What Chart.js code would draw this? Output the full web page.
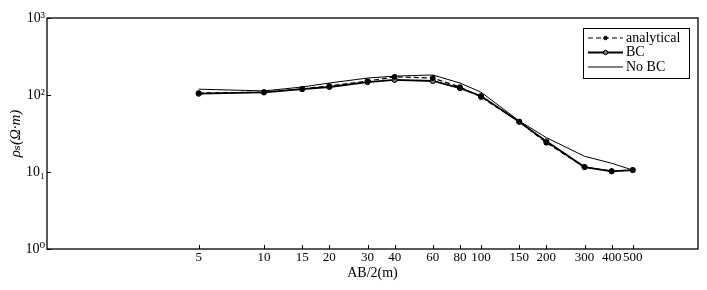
<!DOCTYPE html>
<html>
<head>
<meta charset="utf-8">
<script src="https://cdn.jsdelivr.net/npm/chart.js@4.4.1/dist/chart.umd.min.js"></script>
<style>
  html, body { margin: 0; padding: 0; background: #fff; }
  #wrap { width: 707px; height: 290px; }
</style>
</head>
<body>
<div id="wrap"><canvas id="chartRho" width="707" height="290"></canvas></div>
<script>
    // AB/2 spacings (m)
    const spacings = [5, 10, 15, 20, 30, 40, 60, 80, 100, 150, 200, 300, 400, 500]

    // apparent resistivity (ohm.m)
    const analytical = [106, 109, 120, 131, 152, 172, 166, 127, 94, 45, 24, 11.6, 10.3, 10.6]
    const withBC     = [104, 108, 119, 127, 147, 157, 152, 123, 97, 45, 25, 11.6, 10.2, 10.6]
    const noBC       = [119, 113, 127, 143, 166, 176, 182, 143, 109, 46, 28, 16, 13, 10.6]

    const yTickValues = [1, 10, 100, 1000]
    const yTickLabels = ['10\u2070', '10\u2081', '10\u00b2', '10\u00b3']

    const serif = '"Liberation Serif", "DejaVu Serif", serif'

    const toPoints = (vals) => spacings.map((s, i) => ({ x: s, y: vals[i] }))

    // frame box + inward tick marks
    const frameTicks = {
        id: 'frameTicks',
        afterDraw(chart) {
            const { ctx, chartArea: a, scales } = chart
            ctx.save()
            ctx.strokeStyle = '#000'
            ctx.lineWidth = 1.3
            ctx.strokeRect(a.left, a.top, a.right - a.left, a.bottom - a.top)
            ctx.lineWidth = 1
            ctx.beginPath()
            spacings.forEach((s) => {
                const px = Math.round(scales.x.getPixelForValue(s)) + 0.5
                ctx.moveTo(px, a.bottom)
                ctx.lineTo(px, a.bottom - 4)
            })
            yTickValues.forEach((v) => {
                const py = Math.round(scales.y.getPixelForValue(v)) + 0.5
                ctx.moveTo(a.left, py)
                ctx.lineTo(a.left + 4, py)
            })
            ctx.stroke()
            ctx.restore()
        }
    }

    // legend box drawn inside the plot, top right
    const boxLegend = {
        id: 'boxLegend',
        afterDraw(chart) {
            const { ctx, chartArea: a } = chart
            const w = 106, h = 50
            const x0 = a.right - 115, y0 = a.top + 10
            ctx.save()
            ctx.fillStyle = '#fff'
            ctx.fillRect(x0, y0, w, h)
            ctx.strokeStyle = '#000'
            ctx.lineWidth = 1
            ctx.strokeRect(x0 + 0.5, y0 + 0.5, w, h)

            const items = chart.data.datasets
            ctx.font = '14px ' + serif
            ctx.textBaseline = 'middle'
            items.forEach((ds, i) => {
                const ly = y0 + 10 + i * 14.5
                const lx1 = x0 + 5, lx2 = x0 + 40
                ctx.strokeStyle = '#000'
                ctx.lineWidth = ds.borderWidth
                ctx.setLineDash(ds.borderDash || [])
                ctx.beginPath()
                ctx.moveTo(lx1, ly)
                ctx.lineTo(lx2, ly)
                ctx.stroke()
                ctx.setLineDash([])
                if (ds.pointRadius > 0) {
                    ctx.beginPath()
                    ctx.arc((lx1 + lx2) / 2, ly, ds.pointRadius - 0.4, 0, Math.PI * 2)
                    ctx.fillStyle = ds.pointBackgroundColor
                    ctx.fill()
                    ctx.lineWidth = 1
                    ctx.stroke()
                }
                ctx.fillStyle = '#000'
                ctx.fillText(ds.label, lx2 + 3, ly)
            })
            ctx.restore()
        }
    }

    new Chart(document.getElementById('chartRho').getContext('2d'), {
        type: 'line',
        data: {
            datasets: [
                {
                    label: 'analytical',
                    data: toPoints(analytical),
                    borderColor: '#000',
                    borderWidth: 1.2,
                    borderDash: [5, 3],
                    pointRadius: 2.2,
                    pointBackgroundColor: '#000',
                    pointBorderColor: '#000',
                    tension: 0
                },
                {
                    label: 'BC',
                    data: toPoints(withBC),
                    borderColor: '#000',
                    borderWidth: 1.8,
                    pointRadius: 2.6,
                    pointBackgroundColor: '#777',
                    pointBorderColor: '#000',
                    pointBorderWidth: 1,
                    tension: 0
                },
                {
                    label: 'No BC',
                    data: toPoints(noBC),
                    borderColor: '#000',
                    borderWidth: 1,
                    pointRadius: 0,
                    tension: 0
                }
            ]
        },
        options: {
            responsive: false,
            animation: false,
            layout: { padding: { top: 18, right: 9, left: 0, bottom: 0 } },
            plugins: {
                legend: { display: false },
                tooltip: { enabled: false }
            },
            scales: {
                x: {
                    type: 'logarithmic',
                    min: 1,
                    max: 1000,
                    afterBuildTicks: (scale) => {
                        scale.ticks = spacings.map((v) => ({ value: v }))
                    },
                    afterFit: (scale) => { scale.height = 41 },
                    grid: { display: false, drawTicks: false },
                    border: { display: false },
                    ticks: {
                        autoSkip: false,
                        maxRotation: 0,
                        padding: 1,
                        color: '#000',
                        font: { family: serif, size: 13 },
                        callback: (v) => String(v)
                    },
                    title: {
                        display: true,
                        text: 'AB/2(m)',
                        color: '#000',
                        padding: { top: 0, bottom: 8 },
                        font: { family: serif, size: 14 }
                    }
                },
                y: {
                    type: 'logarithmic',
                    min: 1,
                    max: 1000,
                    afterBuildTicks: (scale) => {
                        scale.ticks = yTickValues.map((v) => ({ value: v }))
                    },
                    afterFit: (scale) => { scale.width = 47 },
                    grid: { display: false, drawTicks: false },
                    border: { display: false },
                    ticks: {
                        padding: 2,
                        color: '#000',
                        font: { family: serif, size: 14 },
                        callback: (v) => yTickLabels[yTickValues.indexOf(v)]
                    },
                    title: {
                        display: true,
                        text: '\u03c1\u209b(\u03a9\u00b7m)',
                        color: '#000',
                        padding: { top: 7, bottom: 7 },
                        font: { family: serif, size: 15, style: 'italic' }
                    }
                }
            }
        },
        plugins: [frameTicks, boxLegend]
    })
</script>
</body>
</html>
